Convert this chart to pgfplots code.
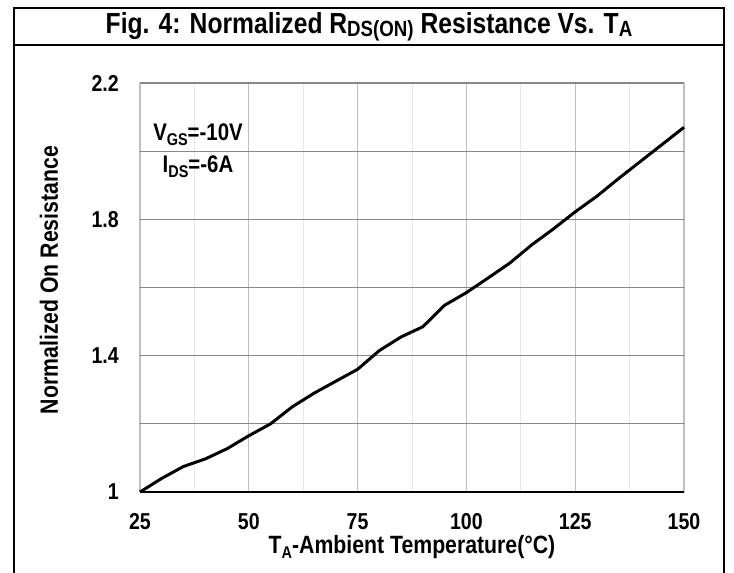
\documentclass[border=0pt]{standalone}
\usepackage{fontspec}
\setmainfont{Liberation Sans}[FakeStretch=0.85]
\usepackage{pgfplots}
\pgfplotsset{compat=1.18}
\definecolor{gridmaj}{HTML}{BFBFBF}
\definecolor{gridmin}{HTML}{E8E8E8}
\definecolor{gridy}{HTML}{878787}
\newcommand{\sub}[1]{\raisebox{-0.22em}{\fontsize{17}{17}\selectfont #1}}
\begin{document}
\begin{tikzpicture}
\useasboundingbox (0,0) rectangle (734pt,-573pt);
\draw[line width=2pt] (14pt,-574pt) -- (14pt,-8pt) -- (724pt,-8pt) -- (724pt,-574pt);
\draw[line width=2pt] (14pt,-45pt) -- (724pt,-45pt);
\node[font=\bfseries\fontsize{29}{30}\selectfont] at (369pt,-26.5pt) {Fig. 4: Normalized R\raisebox{-0.1em}{\fontsize{22}{22}\selectfont DS(ON)} Resistance Vs. T\raisebox{-0.1em}{\fontsize{22}{22}\selectfont A}};
\begin{axis}[
 at={(140pt,-492pt)}, anchor=south west,
 scale only axis, width=544pt, height=409pt,
 xmin=25, xmax=150, ymin=1, ymax=2.2,
 xtick={25,50,...,150},
 minor x tick num=1,
 ytick={1,1.2,1.4,1.6,1.8,2.0,2.2},
 yticklabels={1,,1.4,,1.8,,2.2},
 xmajorgrids, xminorgrids, ymajorgrids,
 major x grid style={gridmaj,line width=1.3pt},
 minor x grid style={gridmin,line width=1pt},
 major y grid style={gridy,line width=1.3pt},
 axis line style={draw=none},
 major tick length=0pt, minor tick length=0pt,
 tick label style={font=\bfseries\fontsize{23}{23}\selectfont},
 /pgf/number format/assume math mode=true,
 xticklabel style={anchor=north, yshift=-21pt, inner sep=0pt},
 yticklabel style={anchor=east, xshift=-21pt, inner sep=0pt},
 clip=false,
]
\addplot[black, line width=3pt, line join=round] coordinates {
(25,1.000) (30,1.040) (35,1.075) (40,1.097) (45,1.127) (50,1.165)
(55,1.200) (60,1.250) (65,1.290) (70,1.325) (75,1.360) (80,1.415)
(85,1.455) (90,1.485) (95,1.548) (100,1.585) (105,1.628) (110,1.672)
(115,1.725) (120,1.772) (125,1.822) (130,1.868) (135,1.920) (140,1.970)
(145,2.020) (150,2.070)};
\draw[black, line width=1.5pt] (axis cs:25,1) -- (axis cs:150,1);
\end{axis}
\node[font=\bfseries\fontsize{24}{24}\selectfont] at (198pt,-135pt) {V\sub{GS}=-10V};
\node[font=\bfseries\fontsize{24}{24}\selectfont] at (198pt,-167pt) {I\sub{DS}=-6A};
\node[font=\bfseries\fontsize{25}{25}\selectfont, rotate=90] at (49pt,-280pt) {Normalized On Resistance};
\node[font=\bfseries\fontsize{25}{25}\selectfont] at (412pt,-547pt) {T\sub{A}-Ambient Temperature(°C)};
\end{tikzpicture}
\end{document}
